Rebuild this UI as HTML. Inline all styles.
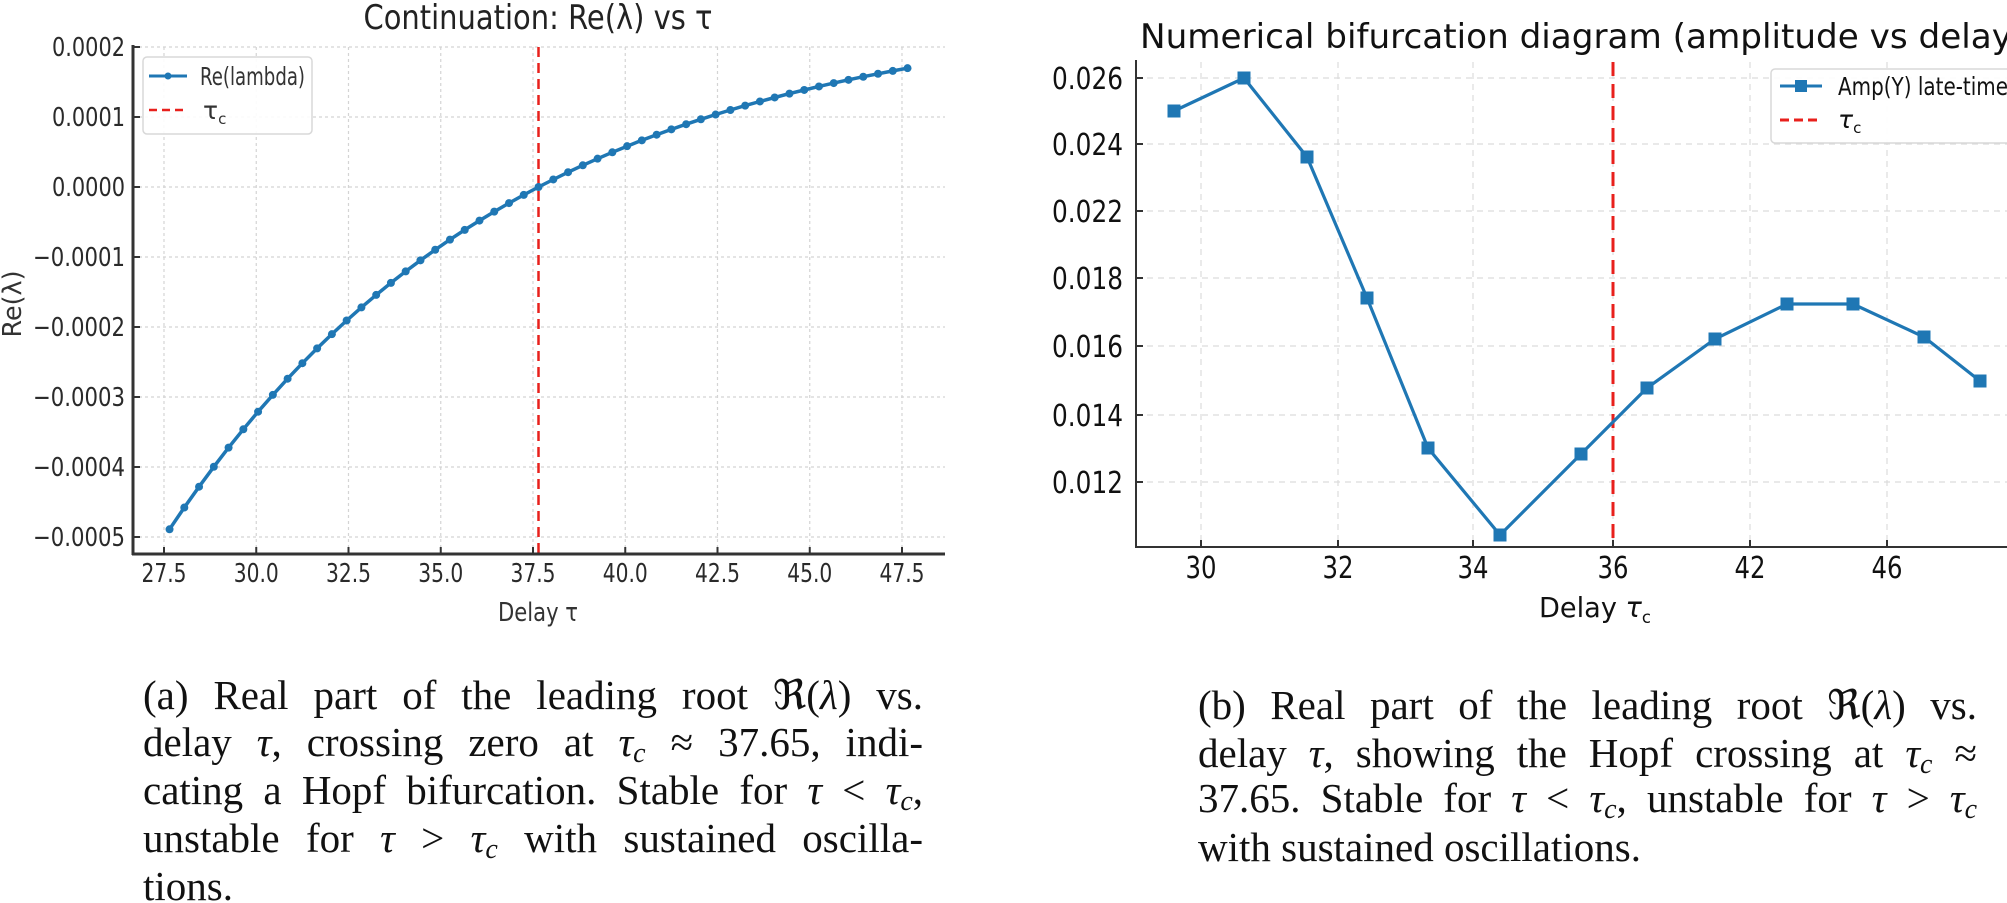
<!DOCTYPE html>
<html><head><meta charset="utf-8">
<style>
html,body{margin:0;padding:0;background:#fff;}
#wrap{position:relative;width:2007px;height:903px;overflow:hidden;background:#fff;}
svg{position:absolute;left:0;top:0;}
.cap{position:absolute;height:48px;line-height:48px;font-family:"Liberation Serif",serif;font-size:41px;color:#111;white-space:nowrap;text-align:justify;text-align-last:justify;}
.cap.last{text-align-last:left;}
.cap i{font-style:italic;}
.cap sub{font-size:28px;vertical-align:-6px;line-height:0;font-style:italic;}
</style></head><body>
<div id="wrap">
<svg id="s" width="2007" height="903" viewBox="0 0 2007 903" xmlns="http://www.w3.org/2000/svg" font-family="DejaVu Sans, Liberation Sans, sans-serif">
<!-- LEFT PLOT -->
<g id="lgrid" stroke="#d4d4d4" stroke-width="1.2" stroke-dasharray="3,3"></g>
<line x1="538.5" y1="47" x2="538.5" y2="554" stroke="#e8201c" stroke-width="2.5" stroke-dasharray="10,6"/>
<g id="lcurve"></g>
<line x1="133" y1="45" x2="133" y2="555" stroke="#333" stroke-width="3"/>
<line x1="132" y1="554" x2="945" y2="554" stroke="#333" stroke-width="3"/>
<g id="lticks" fill="#2a2a2a" font-size="26"></g>
<text x="538" y="621" text-anchor="middle" font-size="26" fill="#333" textLength="80" lengthAdjust="spacingAndGlyphs">Delay τ</text>
<text transform="translate(21,304) rotate(-90)" text-anchor="middle" font-size="26" fill="#333" textLength="67" lengthAdjust="spacingAndGlyphs">Re(λ)</text>
<text x="538" y="29" text-anchor="middle" font-size="34" fill="#222" textLength="349" lengthAdjust="spacingAndGlyphs">Continuation: Re(λ) vs τ</text>
<rect x="143" y="57" width="169" height="77" rx="4" fill="#fff" fill-opacity="0.9" stroke="#d8d8d8" stroke-width="1.5"/>
<line x1="149" y1="76" x2="187" y2="76" stroke="#1f77b4" stroke-width="3"/>
<circle cx="168" cy="76" r="3.5" fill="#1f77b4"/>
<text x="200" y="85" font-size="25" fill="#333" textLength="105" lengthAdjust="spacingAndGlyphs">Re(lambda)</text>
<line x1="149" y1="110" x2="187" y2="110" stroke="#e8201c" stroke-width="2.5" stroke-dasharray="8,5"/>
<text x="203" y="119" font-size="25" fill="#333">τ<tspan font-size="15" dy="5">c</tspan></text>

<!-- RIGHT PLOT -->
<g id="rgrid" stroke="#dcdcdc" stroke-width="1.2" stroke-dasharray="6,5"></g>
<line x1="1613" y1="62" x2="1613" y2="547" stroke="#e8201c" stroke-width="3" stroke-dasharray="14,8"/>
<polyline points="1174,111 1244,78 1307,157 1367,298 1428,448 1500,535 1581,454 1647,388 1715,339 1787,304 1853,304 1924,337 1980,381" fill="none" stroke="#1f77b4" stroke-width="3.2"/>
<g id="rmk" fill="#1f77b4"></g>
<line x1="1136" y1="60" x2="1136" y2="548" stroke="#333" stroke-width="2"/>
<line x1="1135" y1="547" x2="2007" y2="547" stroke="#333" stroke-width="2"/>
<g id="rticks" fill="#111" font-size="30"></g>
<text x="1595" y="617" text-anchor="middle" font-size="28" fill="#111" textLength="112" lengthAdjust="spacingAndGlyphs">Delay <tspan font-style="italic">τ</tspan><tspan font-size="17" dy="6">c</tspan></text>
<text x="1140" y="48" font-size="34" fill="#111" textLength="872" lengthAdjust="spacingAndGlyphs">Numerical bifurcation diagram (amplitude vs delay</text>
<rect x="1771" y="69" width="250" height="74" rx="4" fill="#fff" fill-opacity="0.9" stroke="#d8d8d8" stroke-width="1.5"/>
<line x1="1780" y1="86" x2="1822" y2="86" stroke="#1f77b4" stroke-width="3"/>
<rect x="1795" y="80" width="12" height="12" fill="#1f77b4"/>
<text x="1838" y="95" font-size="25" fill="#111" textLength="170" lengthAdjust="spacingAndGlyphs">Amp(Y) late-time</text>
<line x1="1780" y1="120" x2="1822" y2="120" stroke="#e8201c" stroke-width="3" stroke-dasharray="9,5"/>
<text x="1838" y="128" font-size="25" fill="#111" font-style="italic">τ<tspan font-size="15" dy="5" font-style="normal">c</tspan></text>
</svg>

<div class="cap" style="left:143px;top:671px;width:780px">(a) Real part of the leading root ℜ(<i>λ</i>) vs.</div>
<div class="cap" style="left:143px;top:718px;width:780px">delay <i>τ</i>, crossing zero at <i>τ<sub>c</sub></i> ≈ 37.65, indi-</div>
<div class="cap" style="left:143px;top:766px;width:780px">cating a Hopf bifurcation. Stable for <i>τ</i> &lt; <i>τ<sub>c</sub></i>,</div>
<div class="cap" style="left:143px;top:814px;width:780px">unstable for <i>τ</i> &gt; <i>τ<sub>c</sub></i> with sustained oscilla-</div>
<div class="cap last" style="left:143px;top:862px;width:780px">tions.</div>

<div class="cap" style="left:1198px;top:681px;width:779px">(b) Real part of the leading root ℜ(<i>λ</i>) vs.</div>
<div class="cap" style="left:1198px;top:729px;width:779px">delay <i>τ</i>, showing the Hopf crossing at <i>τ<sub>c</sub></i> ≈</div>
<div class="cap" style="left:1198px;top:774px;width:779px">37.65. Stable for <i>τ</i> &lt; <i>τ<sub>c</sub></i>, unstable for <i>τ</i> &gt; <i>τ<sub>c</sub></i></div>
<div class="cap last" style="left:1198px;top:823px;width:779px">with sustained oscillations.</div>
</div>
<script>
(function(){
var NS="http://www.w3.org/2000/svg";
function el(p,t,a,txt){var e=document.createElementNS(NS,t);for(var k in a)e.setAttribute(k,a[k]);if(txt!=null)e.textContent=txt;p.appendChild(e);return e;}
var X=function(t){return 164+(t-27.5)*36.9;};
var Y=function(v){return 187-v*700000;};
var lg=document.getElementById('lgrid'),lt=document.getElementById('lticks');
var xt=[27.5,30,32.5,35,37.5,40,42.5,45,47.5];
xt.forEach(function(t){var x=X(t);el(lg,'line',{x1:x,y1:47,x2:x,y2:554});
 el(lt,'line',{x1:x,y1:547,x2:x,y2:554,stroke:'#333','stroke-width':2});
 el(lt,'text',{x:x,y:582,'text-anchor':'middle',textLength:45,lengthAdjust:'spacingAndGlyphs'},t.toFixed(1));});
var yt=[0.0002,0.0001,0,-0.0001,-0.0002,-0.0003,-0.0004,-0.0005];
var yl=['0.0002','0.0001','0.0000','\u22120.0001','\u22120.0002','\u22120.0003','\u22120.0004','\u22120.0005'];
yt.forEach(function(v,i){var y=Y(v);el(lg,'line',{x1:133,y1:y,x2:945,y2:y});
 el(lt,'line',{x1:133,y1:y,x2:140,y2:y,stroke:'#333','stroke-width':2});
 var w=v<0?92:73;el(lt,'text',{x:125,y:y+9,'text-anchor':'end',textLength:w,lengthAdjust:'spacingAndGlyphs'},yl[i]);});
var lc=document.getElementById('lcurve'),pts=[];
for(var i=0;i<=50;i++){var t=27.65+i*0.4;var v=0.00026*(1-Math.exp(-0.1058*(t-37.65)));pts.push([X(t),Y(v)]);}
el(lc,'polyline',{points:pts.map(function(p){return p[0].toFixed(1)+','+p[1].toFixed(1);}).join(' '),fill:'none',stroke:'#1f77b4','stroke-width':3.5});
pts.forEach(function(p){el(lc,'circle',{cx:p[0],cy:p[1],r:4,fill:'#1f77b4'});});
var rg=document.getElementById('rgrid'),rt=document.getElementById('rticks');
var rx=[[1201,'30'],[1338,'32'],[1473,'34'],[1613,'36'],[1750,'42'],[1887,'46']];
rx.forEach(function(a){el(rg,'line',{x1:a[0],y1:62,x2:a[0],y2:547});
 el(rt,'line',{x1:a[0],y1:540,x2:a[0],y2:547,stroke:'#333','stroke-width':2});
 el(rt,'text',{x:a[0],y:578,'text-anchor':'middle',textLength:31,lengthAdjust:'spacingAndGlyphs'},a[1]);});
var ry=[[78,'0.026'],[144,'0.024'],[211,'0.022'],[278,'0.018'],[346,'0.016'],[415,'0.014'],[482,'0.012']];
ry.forEach(function(a){el(rg,'line',{x1:1136,y1:a[0],x2:2007,y2:a[0]});
 el(rt,'line',{x1:1136,y1:a[0],x2:1143,y2:a[0],stroke:'#333','stroke-width':2});
 el(rt,'text',{x:1123,y:a[0]+11,'text-anchor':'end',textLength:71,lengthAdjust:'spacingAndGlyphs'},a[1]);});
var rm=document.getElementById('rmk');
[[1174,111],[1244,78],[1307,157],[1367,298],[1428,448],[1500,535],[1581,454],[1647,388],[1715,339],[1787,304],[1853,304],[1924,337],[1980,381]].forEach(function(p){
 el(rm,'rect',{x:p[0]-6.5,y:p[1]-6.5,width:13,height:13});});
})();
</script>
</body></html>
